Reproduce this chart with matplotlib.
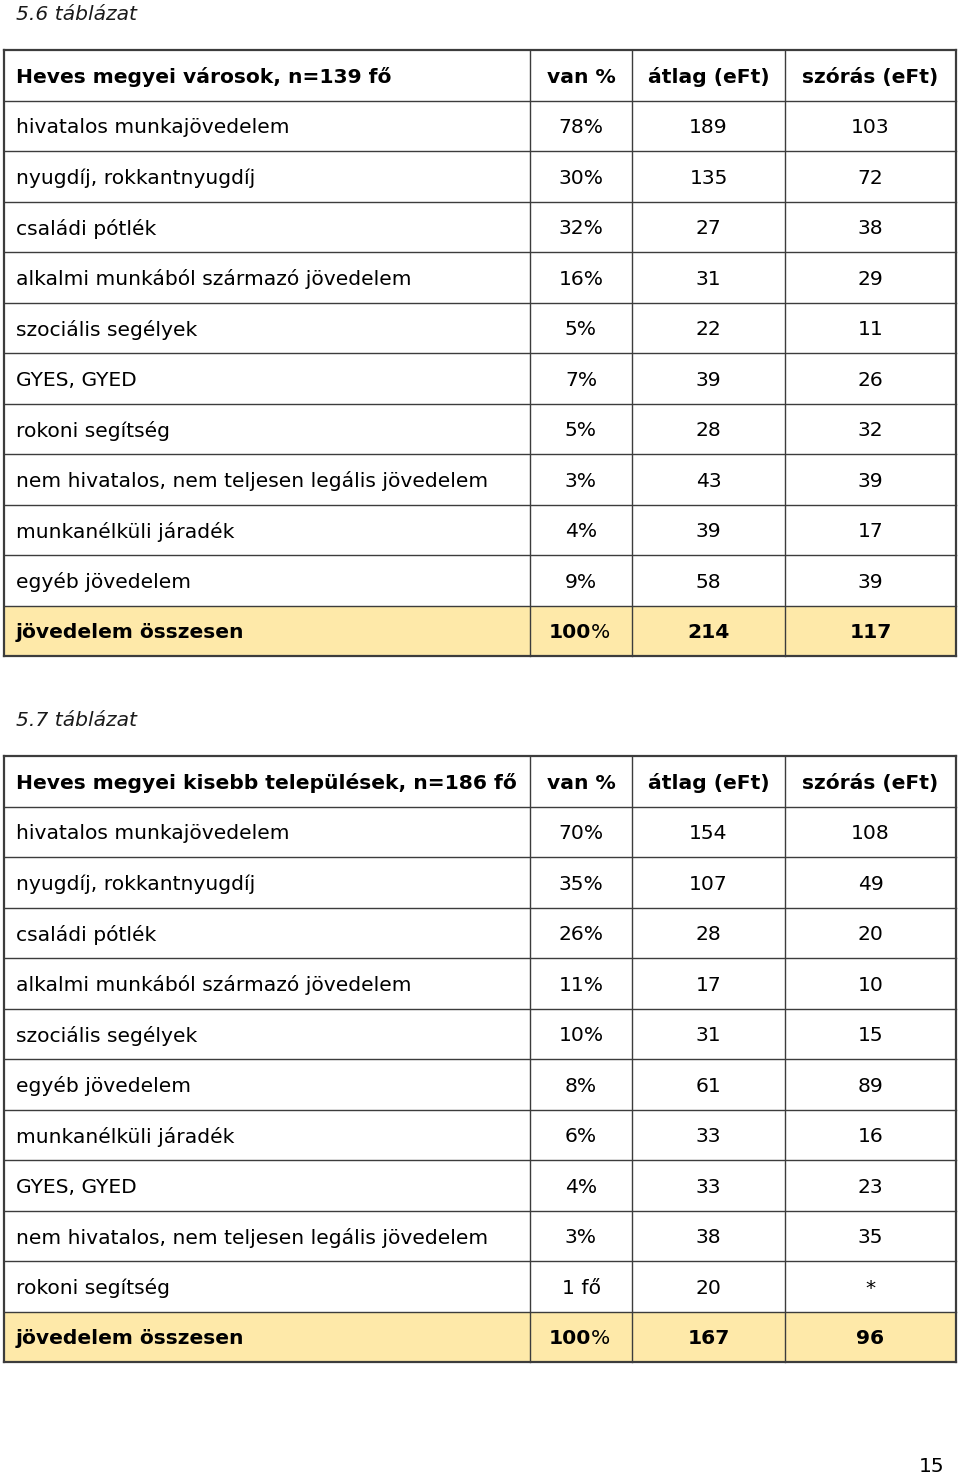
import matplotlib.pyplot as plt
from matplotlib.patches import Rectangle

plt.rcParams["font.family"] = ["DejaVu Sans"]

# 5.6 táblázat
title_1 = "5.6 táblázat"
header_1 = "Heves megyei városok, n=139 fő"
labels_1 = ["hivatalos munkajövedelem", "nyugdíj, rokkantnyugdíj", "családi pótlék",
            "alkalmi munkából származó jövedelem", "szociális segélyek", "GYES, GYED",
            "rokoni segítség", "nem hivatalos, nem teljesen legális jövedelem",
            "munkanélküli járadék", "egyéb jövedelem"]
van_1 = ["78%", "30%", "32%", "16%", "5%", "7%", "5%", "3%", "4%", "9%"]
atlag_1 = ["189", "135", "27", "31", "22", "39", "28", "43", "39", "58"]
szoras_1 = ["103", "72", "38", "29", "11", "26", "32", "39", "17", "39"]
total_1 = ["214", "117"]

# 5.7 táblázat
title_2 = "5.7 táblázat"
header_2 = "Heves megyei kisebb települések, n=186 fő"
labels_2 = ["hivatalos munkajövedelem", "nyugdíj, rokkantnyugdíj", "családi pótlék",
            "alkalmi munkából származó jövedelem", "szociális segélyek", "egyéb jövedelem",
            "munkanélküli járadék", "GYES, GYED",
            "nem hivatalos, nem teljesen legális jövedelem", "rokoni segítség"]
van_2 = ["70%", "35%", "26%", "11%", "10%", "8%", "6%", "4%", "3%", "1 fő"]
atlag_2 = ["154", "107", "28", "17", "31", "61", "33", "33", "38", "20"]
szoras_2 = ["108", "49", "20", "10", "15", "89", "16", "23", "35", "*"]
total_2 = ["167", "96"]

col_names = ["van %", "átlag (eFt)", "szórás (eFt)"]
total_label = "jövedelem összesen"

col_edges = [4, 530, 632, 785, 956]
row_h = 50.5
fs = 14.6
line_c = "#3c3c3c"
fill_c = "#fee9a9"


def draw_table(ax, top, title, header, labels, van, atlag, szoras, total):
    ax.text(16, top - 36, title, fontsize=fs, style="italic", ha="left", va="center",
            color="#1a1a1a")
    rows = [[header] + col_names]
    rows += [[l, a, b, c] for l, a, b, c in zip(labels, van, atlag, szoras)]
    rows += [[total_label, "100", total[0], total[1]]]
    n = len(rows)
    # total row background
    ax.add_patch(Rectangle((col_edges[0], top + (n - 1) * row_h), col_edges[-1] - col_edges[0],
                           row_h, facecolor=fill_c, edgecolor="none", zorder=0))
    for i in range(n + 1):
        y = top + i * row_h
        lw = 1.6 if i in (0, n) else 1.0
        ax.plot([col_edges[0], col_edges[-1]], [y, y], color=line_c, lw=lw,
                solid_capstyle="projecting")
    for j, x in enumerate(col_edges):
        lw = 1.6 if j in (0, len(col_edges) - 1) else 1.0
        ax.plot([x, x], [top, top + n * row_h], color=line_c, lw=lw,
                solid_capstyle="projecting")
    for i, row in enumerate(rows):
        yc = top + (i + 0.5) * row_h + 2
        bold = i == 0 or i == n - 1
        fw = "bold" if bold else "normal"
        ax.text(16, yc, row[0], fontsize=fs, fontweight=fw, ha="left", va="center")
        for j in range(1, 4):
            xc = (col_edges[j] + col_edges[j + 1]) / 2
            if i == n - 1 and j == 1:
                ax.text(xc + 10, yc, "100", fontsize=fs, fontweight="bold",
                        ha="right", va="center")
                ax.text(xc + 10, yc, "%", fontsize=fs, ha="left", va="center")
            else:
                ax.text(xc, yc, row[j], fontsize=fs, fontweight=fw, ha="center", va="center")


fig = plt.figure(figsize=(9.6, 14.75), dpi=100)
ax = fig.add_axes([0, 0, 1, 1])
ax.set_xlim(0, 960)
ax.set_ylim(1475, 0)
ax.axis("off")

draw_table(ax, 50, title_1, header_1, labels_1, van_1, atlag_1, szoras_1, total_1)
draw_table(ax, 756, title_2, header_2, labels_2, van_2, atlag_2, szoras_2, total_2)

ax.text(944, 1466, "15", fontsize=fs, ha="right", va="center")

plt.savefig("out.png", dpi=100)
